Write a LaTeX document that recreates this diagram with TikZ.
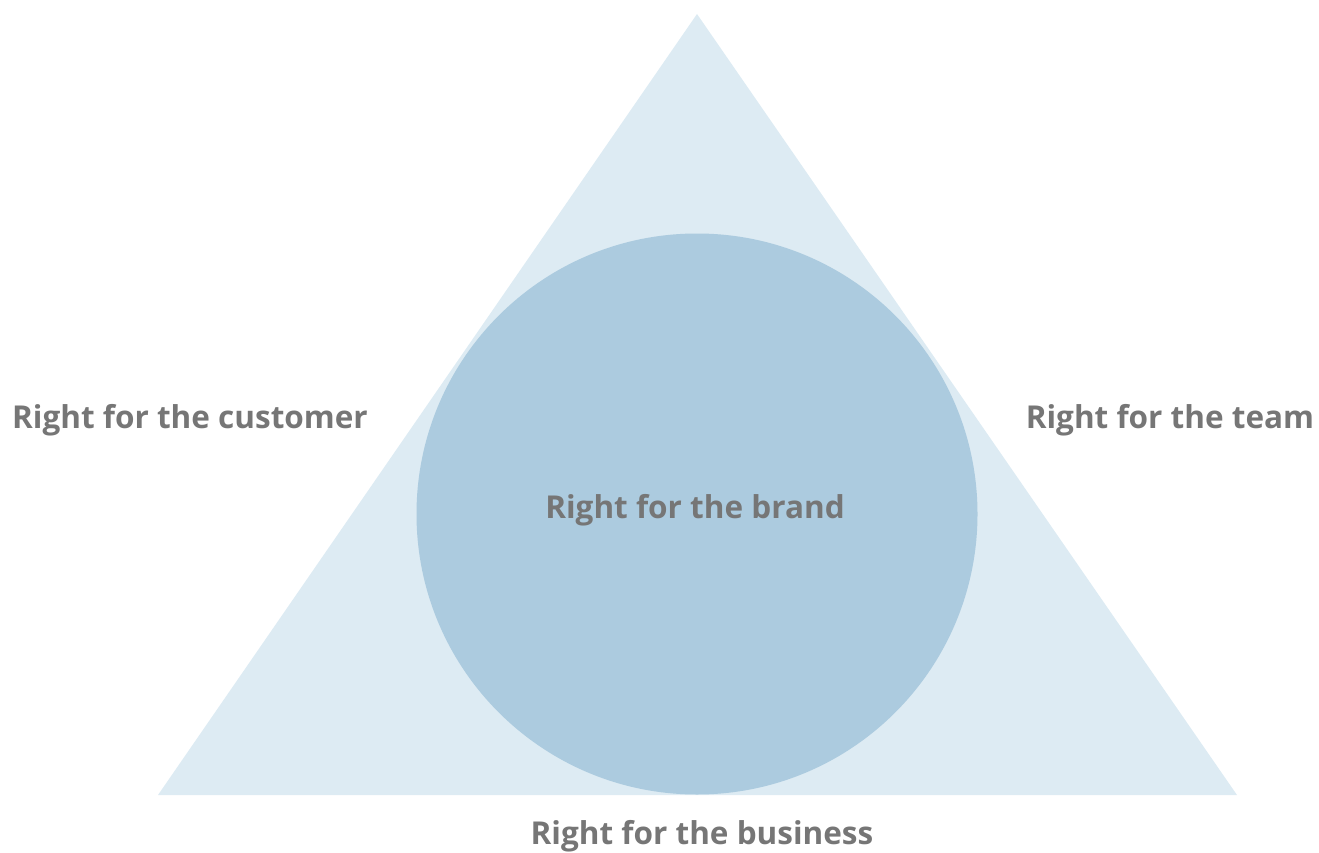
\documentclass[tikz,border=0pt]{standalone}
\usepackage{fontspec}
\setmainfont{Open Sans}[BoldFont={* Bold}]
\definecolor{tri}{HTML}{DDEBF3}
\definecolor{circ}{HTML}{ACCBDF}
\definecolor{txt}{HTML}{767676}
\begin{document}
\begin{tikzpicture}[x=1pt,y=-1pt,
  lbl/.style={font=\bfseries\fontsize{31.5}{36}\selectfont, text=txt, anchor=base, inner sep=0pt}]
\useasboundingbox (0,0) rectangle (1319,853);
\coordinate (apex) at (697,14);
\coordinate (bl) at (158,795);
\coordinate (br) at (1237,795);
\fill[tri] (apex) -- (br) -- (bl) -- cycle;
\fill[circ] (697,514) circle[radius=280.5];
\node[lbl] (customer) at (190,428) {Right for the customer};
\node[lbl] (team) at (1170,428) {Right for the team};
\node[lbl] (brand) at (695,518) {Right for the brand};
\node[lbl] (business) at (702,844) {Right for the business};
\end{tikzpicture}
\end{document}
